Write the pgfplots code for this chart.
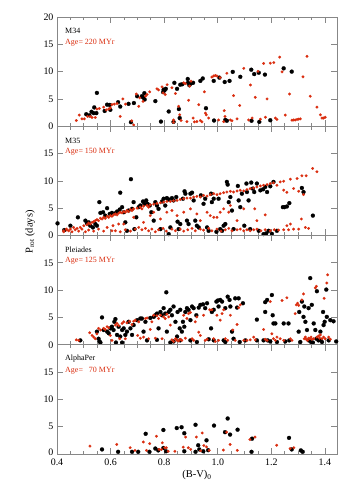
\documentclass[border=0pt]{standalone}
\usepackage{fontspec}
\setmainfont{Liberation Serif}
\usepackage{pgfplots}
\pgfplotsset{compat=1.18}
\definecolor{ptred}{RGB}{218,45,15}
\definecolor{framec}{RGB}{135,135,135}
\tikzset{lab/.style={anchor=west, font=\fontsize{8}{9}\selectfont, inner sep=0pt}}
\pgfplotsset{
  panel/.style={
    scale only axis, width=280bp, height=109.25bp,
    xmin=0.4, xmax=1.445, ymin=0, ymax=20,
    xtick={0.4,0.6,0.8,1.0,1.2,1.4}, minor x tick num=3,
    ytick={0,5,10,15,20},
    xticklabels={},
    tick align=inside,
    xtick pos=both, ytick pos=both,
    major tick length=6bp, minor tick length=3.5bp,
    axis line style={framec, line width=0.9pt},
    every tick/.style={framec, line width=0.7pt},
    tick label style={font=\fontsize{10}{12}\selectfont, text=black},
    clip=true,
  },
  blk/.style={only marks, mark=*, mark size=2.0bp, mark options={fill=black, draw=black, line width=0.2pt}},
  rd/.style={only marks, mark=*, mark size=1.35bp, mark options={fill=ptred, draw=ptred, line width=0.2pt}},
}
\begin{document}
\begin{tikzpicture}
\path[use as bounding box] (-57bp,-38bp) rectangle (297bp,454bp);
% ---------------- M34
\begin{axis}[panel, at={(0,327.75bp)}, anchor=south west, yticklabels={0,5,10,15,20}]
\addplot[blk] coordinates {(0.509,2.2)(0.521,2.0)(0.529,2.65)(0.537,2.4)(0.539,3.45)(0.547,2.4)(0.549,6.1)(0.578,2.8)(0.587,3.95)(0.597,3.9)(0.599,3.0)(0.628,4.4)(0.636,3.6)(0.667,4.1)(0.676,0.75)(0.687,4.25)(0.699,5.5)(0.717,5.5)(0.726,6.05)(0.727,4.9)(0.721,5.3)(0.767,4.6)(0.788,0.85)(0.796,6.25)(0.798,6.7)(0.801,6.55)(0.806,6.85)(0.817,2.7)(0.835,0.8)(0.838,7.95)(0.848,6.85)(0.855,3.15)(0.858,1.5)(0.860,7.6)(0.868,7.7)(0.888,8.65)(0.889,7.95)(0.894,7.5)(0.900,7.85)(0.908,7.95)(0.935,8.3)(0.944,8.75)(0.956,3.3)(0.986,1.05)(0.985,8.3)(1.006,8.9)(1.026,8.1)(1.028,1.15)(1.034,1.0)(1.044,8.3)(1.056,9.95)(1.084,9.05)(1.125,10.35)(1.126,1.0)(1.136,9.55)(1.155,0.8)(1.153,9.8)(1.176,9.45)(1.196,1.1)(1.246,10.6)(1.276,10.0)};
\addplot[rd] coordinates {(0.472,1.05)(0.483,2.05)(0.493,1.35)(0.502,1.35)(0.514,1.8)(0.524,1.8)(0.531,1.6)(0.543,1.6)(0.549,3.15)(0.558,3.25)(0.574,3.5)(0.584,3.0)(0.593,3.15)(0.599,3.35)(0.605,3.95)(0.614,4.05)(0.624,4.15)(0.636,1.8)(0.646,5.0)(0.656,4.05)(0.679,1.0)(0.686,0.25)(0.696,5.9)(0.705,3.65)(0.709,5.2)(0.721,4.55)(0.731,5.5)(0.736,5.8)(0.746,6.3)(0.773,6.85)(0.779,6.65)(0.792,7.2)(0.796,6.1)(0.804,5.8)(0.811,7.6)(0.829,7.05)(0.835,1.15)(0.835,0.7)(0.842,6.0)(0.854,3.65)(0.858,2.1)(0.863,1.05)(0.873,7.95)(0.879,7.8)(0.885,0.85)(0.891,4.75)(0.895,7.35)(0.900,8.25)(0.908,1.5)(0.913,0.8)(0.922,0.85)(0.929,3.95)(0.935,1.05)(0.941,0.8)(0.950,6.3)(0.954,2.4)(0.957,2.1)(0.966,1.5)(0.978,9.0)(0.985,9.2)(0.991,9.3)(0.997,9.2)(1.003,1.15)(1.009,8.9)(1.022,0.85)(1.024,2.85)(1.027,1.8)(1.034,9.7)(1.047,1.15)(1.053,1.0)(1.059,5.6)(1.072,1.35)(1.082,3.8)(1.097,10.6)(1.115,1.15)(1.122,7.55)(1.128,1.5)(1.140,5.3)(1.150,10.05)(1.159,1.3)(1.171,11.5)(1.178,1.65)(1.184,5.0)(1.196,11.55)(1.209,11.65)(1.215,1.5)(1.221,1.25)(1.231,12.65)(1.240,9.95)(1.252,2.05)(1.268,5.9)(1.277,1.1)(1.283,1.15)(1.289,1.15)(1.296,1.25)(1.302,1.3)(1.308,1.35)(1.318,9.05)(1.333,12.8)(1.345,5.5)(1.370,3.5)(1.383,2.1)(1.389,1.5)(1.395,1.5)(1.401,1.65)};
\node[lab] at (axis cs:0.43,17.4) {M34};
\node[lab, text=ptred] at (axis cs:0.43,15.3) {Age= 220 MYr};
\end{axis}
% ---------------- M35
\begin{axis}[panel, at={(0,218.5bp)}, anchor=south west, yticklabels={0,5,10,15,{}}]
\addplot[blk] coordinates {(0.402,2.22)(0.427,0.99)(0.450,1.79)(0.478,3.33)(0.506,2.72)(0.512,2.22)(0.518,2.41)(0.524,1.79)(0.534,1.48)(0.543,2.10)(0.549,1.79)(0.558,6.11)(0.562,4.14)(0.572,4.26)(0.580,3.64)(0.587,5.0)(0.597,3.95)(0.605,4.14)(0.618,4.07)(0.624,4.38)(0.634,4.75)(0.636,7.84)(0.643,5.19)(0.649,4.26)(0.655,2.41)(0.661,0.86)(0.667,4.57)(0.676,10.31)(0.680,4.88)(0.686,6.11)(0.689,1.17)(0.696,3.33)(0.705,5.19)(0.711,5.49)(0.721,6.23)(0.726,5.80)(0.733,6.42)(0.738,5.80)(0.746,5.49)(0.752,4.26)(0.761,2.72)(0.767,6.11)(0.773,5.49)(0.779,4.88)(0.786,1.17)(0.792,6.23)(0.798,6.73)(0.804,5.49)(0.810,6.85)(0.817,6.6)(0.823,1.48)(0.829,6.85)(0.835,6.42)(0.845,7.04)(0.850,2.53)(0.854,1.17)(0.860,2.10)(0.870,6.73)(0.876,8.09)(0.879,7.65)(0.885,2.72)(0.891,2.10)(0.898,7.65)(0.904,7.84)(0.910,6.42)(0.916,2.72)(0.922,1.79)(0.929,1.48)(0.937,7.35)(0.947,5.80)(0.953,6.73)(0.960,1.48)(0.966,0.86)(0.975,7.65)(0.978,6.11)(0.985,6.73)(0.995,0.68)(1.003,6.73)(1.009,1.17)(1.016,0.86)(1.022,1.79)(1.028,2.10)(1.034,9.81)(1.037,9.32)(1.041,6.11)(1.047,7.04)(1.053,4.57)(1.059,1.17)(1.075,9.07)(1.078,6.42)(1.084,5.19)(1.090,7.65)(1.099,1.79)(1.107,9.51)(1.109,7.96)(1.115,6.42)(1.121,1.17)(1.125,9.69)(1.131,8.58)(1.136,7.96)(1.146,9.51)(1.153,0.86)(1.159,8.27)(1.169,8.46)(1.177,8.89)(1.184,7.96)(1.190,0.86)(1.196,9.01)(1.208,9.81)(1.221,0.86)(1.243,5.19)(1.249,5.19)(1.258,5.31)(1.267,5.93)(1.314,8.70)(1.320,7.96)(1.355,3.64)(0.817,0.25)(1.171,0.25)(1.181,0.4)(1.202,0.3)};
\addplot[rd] coordinates {(0.425,0.86)(0.437,0.99)(0.450,1.17)(0.462,1.48)(0.475,1.30)(0.487,1.48)(0.500,1.79)(0.512,1.98)(0.518,2.28)(0.524,2.10)(0.531,2.41)(0.537,2.53)(0.543,2.72)(0.549,2.90)(0.555,2.72)(0.562,3.15)(0.568,3.02)(0.574,3.33)(0.580,3.15)(0.587,3.52)(0.593,3.33)(0.599,3.64)(0.605,3.52)(0.611,3.77)(0.618,3.95)(0.624,3.77)(0.630,4.07)(0.636,4.26)(0.643,4.14)(0.649,4.38)(0.655,4.26)(0.661,4.57)(0.667,4.38)(0.674,4.75)(0.680,4.57)(0.686,4.88)(0.699,5.0)(0.711,5.19)(0.717,4.88)(0.723,5.37)(0.736,5.49)(0.742,5.19)(0.748,5.62)(0.761,5.74)(0.773,5.86)(0.786,5.99)(0.798,6.11)(0.810,6.23)(0.823,6.23)(0.835,6.36)(0.848,6.42)(0.860,6.6)(0.873,6.73)(0.885,6.85)(0.898,6.85)(0.910,7.04)(0.922,7.16)(0.935,7.04)(0.947,7.35)(0.960,7.22)(0.972,7.47)(0.985,7.65)(0.997,7.47)(1.009,7.65)(1.022,7.84)(1.034,7.96)(1.047,8.09)(1.059,7.96)(1.072,8.15)(1.084,8.27)(1.097,8.15)(1.109,8.40)(1.121,8.58)(1.134,8.70)(1.146,8.89)(1.159,9.07)(1.171,9.2)(1.184,9.32)(1.196,9.51)(1.208,9.63)(1.221,9.2)(1.233,9.81)(1.246,9.94)(1.271,10.31)(1.296,10.43)(1.314,10.93)(1.330,10.93)(1.354,12.28)(1.370,11.67)(1.246,8.3)(1.258,7.9)(1.283,8.6)(1.302,8.1)(1.320,7.5)(0.587,1.48)(0.609,1.79)(0.630,2.10)(0.605,0.86)(0.649,2.10)(0.686,3.33)(0.723,2.41)(0.748,3.64)(0.761,4.26)(0.786,3.02)(0.810,4.26)(0.829,4.57)(0.848,3.64)(0.873,4.26)(0.898,4.88)(0.922,3.95)(0.935,2.72)(0.960,4.26)(0.972,3.64)(0.985,3.33)(0.997,3.33)(1.009,4.26)(1.022,4.88)(1.041,4.26)(1.047,5.49)(1.072,2.72)(1.097,4.88)(1.138,4.88)(1.146,2.72)(1.177,3.77)(1.258,1.79)(1.271,2.10)(1.312,3.02)(0.425,0.68)(0.435,1.17)(0.444,0.86)(0.456,0.68)(0.468,1.05)(0.481,0.80)(0.493,1.17)(0.506,0.68)(0.518,0.99)(0.537,0.8)(0.555,1.17)(0.574,0.8)(0.618,0.86)(0.636,0.68)(0.655,1.05)(0.674,0.8)(0.692,1.17)(0.705,1.48)(0.717,1.05)(0.730,1.3)(0.742,0.86)(0.754,1.17)(0.767,0.68)(0.779,1.05)(0.796,1.3)(0.808,0.8)(0.829,1.17)(0.842,0.86)(0.860,1.17)(0.873,0.8)(0.888,1.05)(0.904,1.3)(0.916,0.86)(0.935,1.17)(0.947,0.99)(0.966,1.3)(0.978,0.86)(0.997,1.17)(1.012,0.8)(1.028,1.05)(1.041,1.3)(1.053,0.86)(1.072,1.05)(1.084,1.17)(1.097,0.86)(1.109,1.05)(1.121,0.86)(1.134,1.05)(1.146,1.17)(1.161,0.86)(1.177,1.05)(1.196,0.86)(1.211,1.05)(1.227,0.99)(1.246,1.05)(1.264,1.05)(1.283,1.17)(1.302,1.17)(1.327,1.48)(1.339,1.3)};
\node[lab] at (axis cs:0.43,17.4) {M35};
\node[lab, text=ptred] at (axis cs:0.43,15.3) {Age= 150 MYr};
\end{axis}
% ---------------- Pleiades
\begin{axis}[panel, at={(0,109.25bp)}, anchor=south west, yticklabels={0,5,10,15,{}}]
\addplot[blk] coordinates {(0.487,0.8)(0.549,2.4)(0.555,1.1)(0.559,0.6)(0.568,5.0)(0.574,2.7)(0.587,2.4)(0.593,2.1)(0.599,3.0)(0.605,3.3)(0.611,2.7)(0.614,4.2)(0.618,4.7)(0.620,0.4)(0.624,1.8)(0.630,3.3)(0.636,1.5)(0.643,2.7)(0.649,3.0)(0.655,1.8)(0.661,2.4)(0.667,4.2)(0.674,3.0)(0.680,1.8)(0.686,3.6)(0.699,4.5)(0.711,4.8)(0.717,4.8)(0.723,2.4)(0.730,4.2)(0.748,4.9)(0.761,5.1)(0.767,5.4)(0.773,5.7)(0.779,3.0)(0.786,6.0)(0.792,5.4)(0.798,6.7)(0.804,5.7)(0.808,9.6)(0.810,2.4)(0.817,6.0)(0.823,6.4)(0.829,5.4)(0.835,7.0)(0.842,4.2)(0.848,1.5)(0.850,6.0)(0.858,3.0)(0.860,6.4)(0.866,2.4)(0.870,4.2)(0.875,3.3)(0.879,6.0)(0.885,6.7)(0.891,6.4)(0.898,4.5)(0.904,7.0)(0.910,6.7)(0.920,5.4)(0.929,6.8)(0.935,7.3)(0.945,7.4)(0.953,6.7)(0.960,7.6)(0.966,1.0)(0.975,3.0)(0.978,6.0)(0.985,6.4)(0.995,7.9)(1.000,8.1)(1.003,7.0)(1.009,8.2)(1.016,7.9)(1.022,0.8)(1.028,6.7)(1.037,8.8)(1.044,8.2)(1.047,7.0)(1.053,2.4)(1.059,1.1)(1.065,8.5)(1.072,6.8)(1.078,8.5)(1.082,0.5)(1.094,7.6)(1.103,0.8)(1.146,4.6)(1.146,0.8)(1.177,7.8)(1.177,6.0)(1.184,8.2)(1.186,0.8)(1.202,9.1)(1.205,5.4)(1.208,3.9)(1.215,3.9)(1.221,0.5)(1.246,3.9)(1.252,0.6)(1.264,3.9)(1.267,0.8)(1.302,2.4)(1.304,6.0)(1.308,0.5)(1.314,7.9)(1.320,5.1)(1.323,7.0)(1.327,4.2)(1.333,2.7)(1.339,6.7)(1.345,12.2)(1.348,0.5)(1.351,7.3)(1.358,3.9)(1.364,2.7)(1.368,1.1)(1.370,9.8)(1.376,0.8)(1.383,2.4)(1.389,0.5)(1.393,6.0)(1.395,3.6)(1.399,4.2)(1.405,10.1)(1.407,5.1)(1.414,0.8)(1.420,4.5)(1.432,4.3)(1.442,0.6)(0.562,0.4)(0.643,0.4)(0.736,0.8)(0.773,0.9)(0.823,0.4)(0.835,0.6)(0.860,0.8)(0.898,0.8)(0.922,0.5)(0.985,0.8)(1.028,0.5)(1.171,0.8)(1.196,0.6)(1.339,0.8)(1.355,0.4)(1.383,0.9)};
\addplot[rd] coordinates {(0.472,0.9)(0.481,0.8)(0.522,2.2)(0.531,1.7)(0.537,1.4)(0.543,1.1)(0.549,2.0)(0.555,3.0)(0.562,2.7)(0.574,3.0)(0.580,2.8)(0.587,3.3)(0.593,3.1)(0.599,1.7)(0.605,0.8)(0.618,3.6)(0.624,3.9)(0.630,3.5)(0.634,1.1)(0.643,3.9)(0.649,4.2)(0.655,1.1)(0.661,4.0)(0.671,4.3)(0.680,3.7)(0.686,4.3)(0.692,4.5)(0.701,1.7)(0.705,4.2)(0.711,1.2)(0.723,1.4)(0.730,4.8)(0.736,4.9)(0.742,1.1)(0.748,2.8)(0.754,4.2)(0.761,5.4)(0.767,1.2)(0.773,5.3)(0.779,4.8)(0.786,5.4)(0.792,1.1)(0.798,5.1)(0.804,4.8)(0.810,5.6)(0.817,5.1)(0.823,3.6)(0.829,0.9)(0.835,0.6)(0.842,1.1)(0.845,1.0)(0.848,0.8)(0.854,0.7)(0.860,1.0)(0.866,0.8)(0.873,5.4)(0.879,1.2)(0.885,4.8)(0.891,5.7)(0.898,5.9)(0.904,1.1)(0.910,0.8)(0.916,4.2)(0.922,5.1)(0.929,2.3)(0.935,1.7)(0.947,5.4)(0.953,0.8)(0.960,1.0)(0.970,6.4)(0.978,6.4)(0.985,1.1)(0.991,0.6)(0.997,5.4)(1.003,0.8)(1.009,4.5)(1.016,5.7)(1.022,6.4)(1.028,1.1)(1.037,0.8)(1.047,5.4)(1.056,2.7)(1.065,0.8)(1.072,3.7)(1.078,6.8)(1.084,7.3)(1.097,0.8)(1.109,0.8)(1.121,0.9)(1.134,1.4)(1.140,0.9)(1.171,2.8)(1.177,1.0)(1.184,0.8)(1.196,7.9)(1.202,2.0)(1.208,1.1)(1.215,0.8)(1.221,1.4)(1.233,1.1)(1.240,8.1)(1.246,0.8)(1.258,8.6)(1.271,1.1)(1.277,0.8)(1.289,5.7)(1.293,7.3)(1.298,7.6)(1.302,7.2)(1.314,8.2)(1.320,9.3)(1.323,1.1)(1.327,1.4)(1.330,1.0)(1.335,0.8)(1.339,1.2)(1.343,1.1)(1.348,1.4)(1.351,1.0)(1.358,1.1)(1.364,10.4)(1.368,10.7)(1.370,1.4)(1.376,1.6)(1.380,1.2)(1.383,1.8)(1.389,1.1)(1.395,1.4)(1.397,8.5)(1.401,1.1)(1.407,11.3)(1.410,12.8)(1.414,1.4)(1.420,1.0)};
\node[lab] at (axis cs:0.43,17.4) {Pleiades};
\node[lab, text=ptred] at (axis cs:0.43,15.3) {Age= 125 MYr};
\end{axis}
% ---------------- AlphaPer
\begin{axis}[panel, at={(0,0)}, anchor=south west, yticklabels={\raisebox{3.5bp}{0},5,10,15,{}},
  xticklabels={0.4,0.6,0.8,1.0,1.2,1.4},
  x tick label style={yshift=-1bp},
  xlabel={(B-V)\textsubscript{0}}, xlabel style={font=\fontsize{10.5}{12}\selectfont, yshift=2bp}]
\addplot[blk] coordinates {(0.568,0.84)(0.628,0.4)(0.680,0.4)(0.703,0.4)(0.731,3.7)(0.745,0.4)(0.767,1.0)(0.778,0.66)(0.797,4.4)(0.797,1.1)(0.807,0.5)(0.847,4.75)(0.865,4.9)(0.875,3.8)(0.875,0.5)(0.917,5.35)(0.917,0.4)(0.927,1.6)(0.931,0.84)(0.946,0.5)(0.958,2.5)(0.964,0.7)(0.986,5.2)(1.027,4.0)(1.037,6.5)(1.046,3.55)(1.074,4.45)(1.126,0.4)(1.128,2.8)(1.266,2.95)(1.276,0.84)(1.310,0.66)(1.317,0.4)};
\addplot[rd] coordinates {(0.523,1.45)(0.623,1.75)(0.673,1.15)(0.691,0.66)(0.722,2.2)(0.734,0.66)(0.746,1.9)(0.771,3.25)(0.781,0.84)(0.790,0.84)(0.793,2.05)(0.802,1.15)(0.808,1.15)(0.815,0.5)(0.840,0.5)(0.871,1.25)(0.880,3.1)(0.890,1.15)(0.899,0.84)(0.920,3.1)(0.936,0.6)(0.942,3.85)(0.948,1.55)(0.958,1.3)(0.968,0.66)(1.021,0.72)(1.033,4.0)(1.046,1.75)(1.073,0.66)(1.120,2.65)(1.139,3.1)(1.220,1.6)(1.270,1.0)(1.284,1.15)};
\node[lab] at (axis cs:0.43,17.4) {AlphaPer};
\node[lab, text=ptred] at (axis cs:0.43,15.3) {Age= \phantom{0}70 MYr};
\end{axis}
\node[rotate=90, font=\fontsize{10.5}{12}\selectfont] at (-27bp,222bp) {P\textsubscript{rot} (days)};
\end{tikzpicture}
\end{document}
